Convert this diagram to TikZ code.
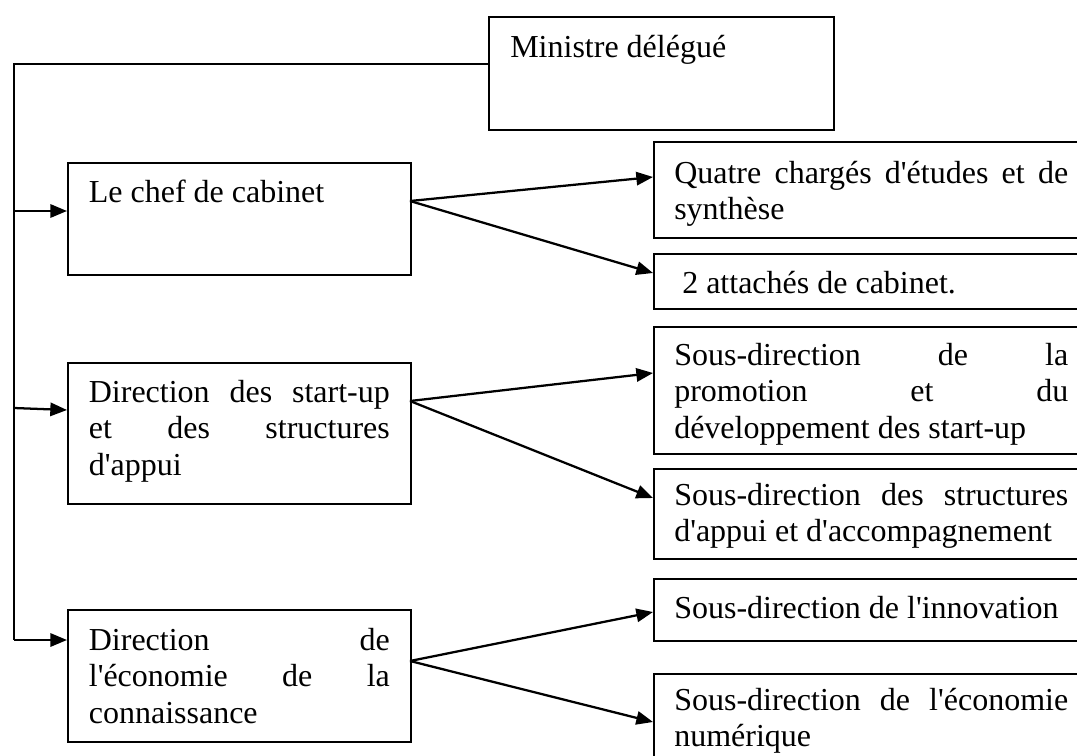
\documentclass[tikz,border=0pt]{standalone}
\usepackage{fontspec}
\setmainfont{Liberation Serif}[Ligatures=TeXOff]
\usetikzlibrary{arrows.meta}
\newcommand{\jline}[1]{\makebox[\linewidth][s]{#1}\par}
\begin{document}
\begin{tikzpicture}[x=0.75pt,y=-0.75pt,
  box/.style={draw,line width=1.4pt,rectangle,inner sep=0pt,anchor=north west},
  conn/.style={line width=1.4pt},
  arr/.style={line width=1.7pt,-{Triangle[length=12.5pt,width=10pt]}},
  txt/.style={anchor=base west,inner sep=0pt,font=\fontsize{24}{27.6}\selectfont}]
\useasboundingbox (0,0) rectangle (1077,756);
\clip (0,0) rectangle (1077,756);
% boxes
\node[box,minimum width=258.75pt,minimum height=84.75pt] (minis) at (488,16) {};
\node[box,minimum width=257.25pt,minimum height=84pt] (chef) at (67,162) {};
\node[box,minimum width=257.25pt,minimum height=105.75pt] (dirA) at (67,362) {};
\node[box,minimum width=257.25pt,minimum height=99pt] (dirB) at (67,609) {};
\node[box,minimum width=335pt,minimum height=72pt] (quatre) at (653,141) {};
\node[box,minimum width=335pt,minimum height=41.25pt] (attach) at (653,253) {};
\node[box,minimum width=335pt,minimum height=95.25pt] (sdla) at (653,326) {};
\node[box,minimum width=335pt,minimum height=67.5pt] (sdstr) at (653,468) {};
\node[box,minimum width=335pt,minimum height=46.5pt] (sdinn) at (653,578) {};
\node[box,minimum width=335pt,minimum height=75pt] (sdeco) at (653,673) {};
% texts
\node[txt] (tminis) at (510,58) {Ministre délégué};
\node[txt] (tchef) at (88.6,202) {Le chef de cabinet};
\node[txt] (tdirA) at (88.6,402) {\parbox[t]{225.75pt}{\jline{Direction des start-up}\jline{et des structures}d'appui}};
\node[txt] (tdirB) at (88.6,650) {\parbox[t]{225.75pt}{\jline{Direction de}\jline{l'économie de la}connaissance}};
\node[txt] (tquatre) at (674,183) {\parbox[t]{295.5pt}{\jline{Quatre chargés d'études et de}synthèse}};
\node[txt] (tattach) at (682,293) {2 attachés de cabinet.};
\node[txt] (tsdla) at (674,365) {\parbox[t]{295.5pt}{\jline{Sous-direction de la}\jline{promotion et du}développement des start-up}};
\node[txt] (tsdstr) at (674,505) {\parbox[t]{295.5pt}{\jline{Sous-direction des structures}d'appui et d'accompagnement}};
\node[txt] (tsdinn) at (674,618) {Sous-direction de l'innovation};
\node[txt] (tsdeco) at (674,710) {\parbox[t]{295.5pt}{\jline{Sous-direction de l'économie}numérique}};
% trunk
\coordinate (top) at (14,64);
\coordinate (bot) at (14,640);
\coordinate (jA) at (14,211);
\coordinate (jB) at (14,408);
\coordinate (eB) at (67,410);
\draw[conn] (minis.west |- top) -- (top) -- (bot);
\draw[arr] (jA) -- (chef.west |- jA);
\draw[arr] (jB) -- (eB);
\draw[arr] (bot) -- (dirB.west |- bot);
% branches
\coordinate (oA) at (410,201);
\coordinate (oB) at (410,401);
\coordinate (oC) at (410,661);
\coordinate (t1) at (653,177);
\coordinate (t2) at (653,273);
\coordinate (t3) at (653,373);
\coordinate (t4) at (653,498);
\coordinate (t5) at (653,612);
\coordinate (t6) at (653,722);
\draw[arr] (oA) -- (t1);
\draw[arr] (oA) -- (t2);
\draw[arr] (oB) -- (t3);
\draw[arr] (oB) -- (t4);
\draw[arr] (oC) -- (t5);
\draw[arr] (oC) -- (t6);
\end{tikzpicture}
\end{document}
